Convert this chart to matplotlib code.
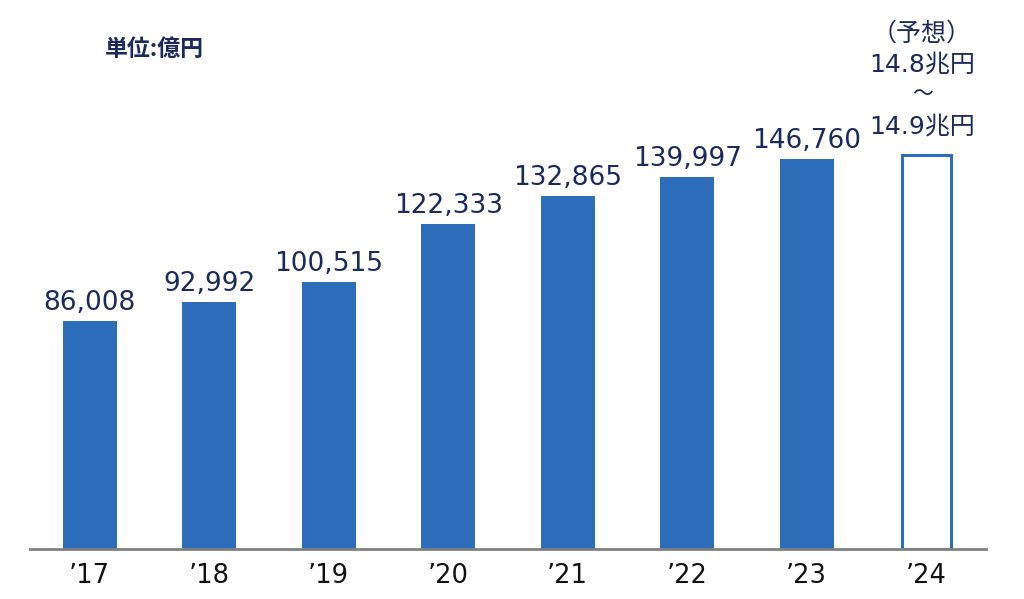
import matplotlib.pyplot as plt

plt.rcParams['font.family'] = ['DejaVu Sans', 'Noto Sans CJK JP']

years = ['’17', '’18', '’19', '’20', '’21', '’22', '’23', '’24']
values = [86008, 92992, 100515, 122333, 132865, 139997, 146760]
forecast = 148500  # 14.8~14.9兆円 の中間
forecast_lines = ['（予想）', '14.8兆円', '～', '14.9兆円']

blue = '#2E6DBA'
navy = '#1B2A5C'
cjk = ['Noto Sans CJK JP', 'DejaVu Sans']

fig = plt.figure(figsize=(10.24, 5.99), dpi=100)
ax = fig.add_axes([0.0293, 0.0835, 0.9336, 0.8998])

x = list(range(len(values)))
ax.bar(x, values, width=0.45, color=blue)
ax.bar(len(values), forecast, width=0.41, facecolor='white', edgecolor=blue, linewidth=2.2)

for xi, v in zip(x, values):
    ax.annotate(f'{v:,}', xy=(xi, v), xytext=(0, 8), textcoords='offset points',
                ha='center', va='baseline', fontsize=19, color=navy)

# 予想の注記
offs = [87, 65, 44, 20]
for txt, o in zip(forecast_lines, offs):
    fam = cjk if txt in ('（予想）', '～') else ['DejaVu Sans', 'Noto Sans CJK JP']
    ax.annotate(txt, xy=(len(values), forecast), xytext=(-3, o), textcoords='offset points',
                ha='center', va='center', fontsize=18 if txt != '～' else 15,
                family=fam, color=navy)

ax.text(105 / 1024, 1 - 49 / 599, '単位:億円', transform=fig.transFigure, ha='left', va='center',
        fontsize=16.5, fontweight='bold', family=cjk, color=navy)

ax.set_xlim(-0.5, 7.5)
ax.set_ylim(0, 203000)
ax.set_xticks(range(len(years)))
ax.set_xticklabels(years, fontsize=18.5, color='#111111')
ax.tick_params(axis='x', length=0, pad=10)
ax.set_yticks([])
for s in ['top', 'right', 'left']:
    ax.spines[s].set_visible(False)
ax.spines['bottom'].set_color('#808080')
ax.spines['bottom'].set_linewidth(2)

fig.savefig('out.png', dpi=100)
